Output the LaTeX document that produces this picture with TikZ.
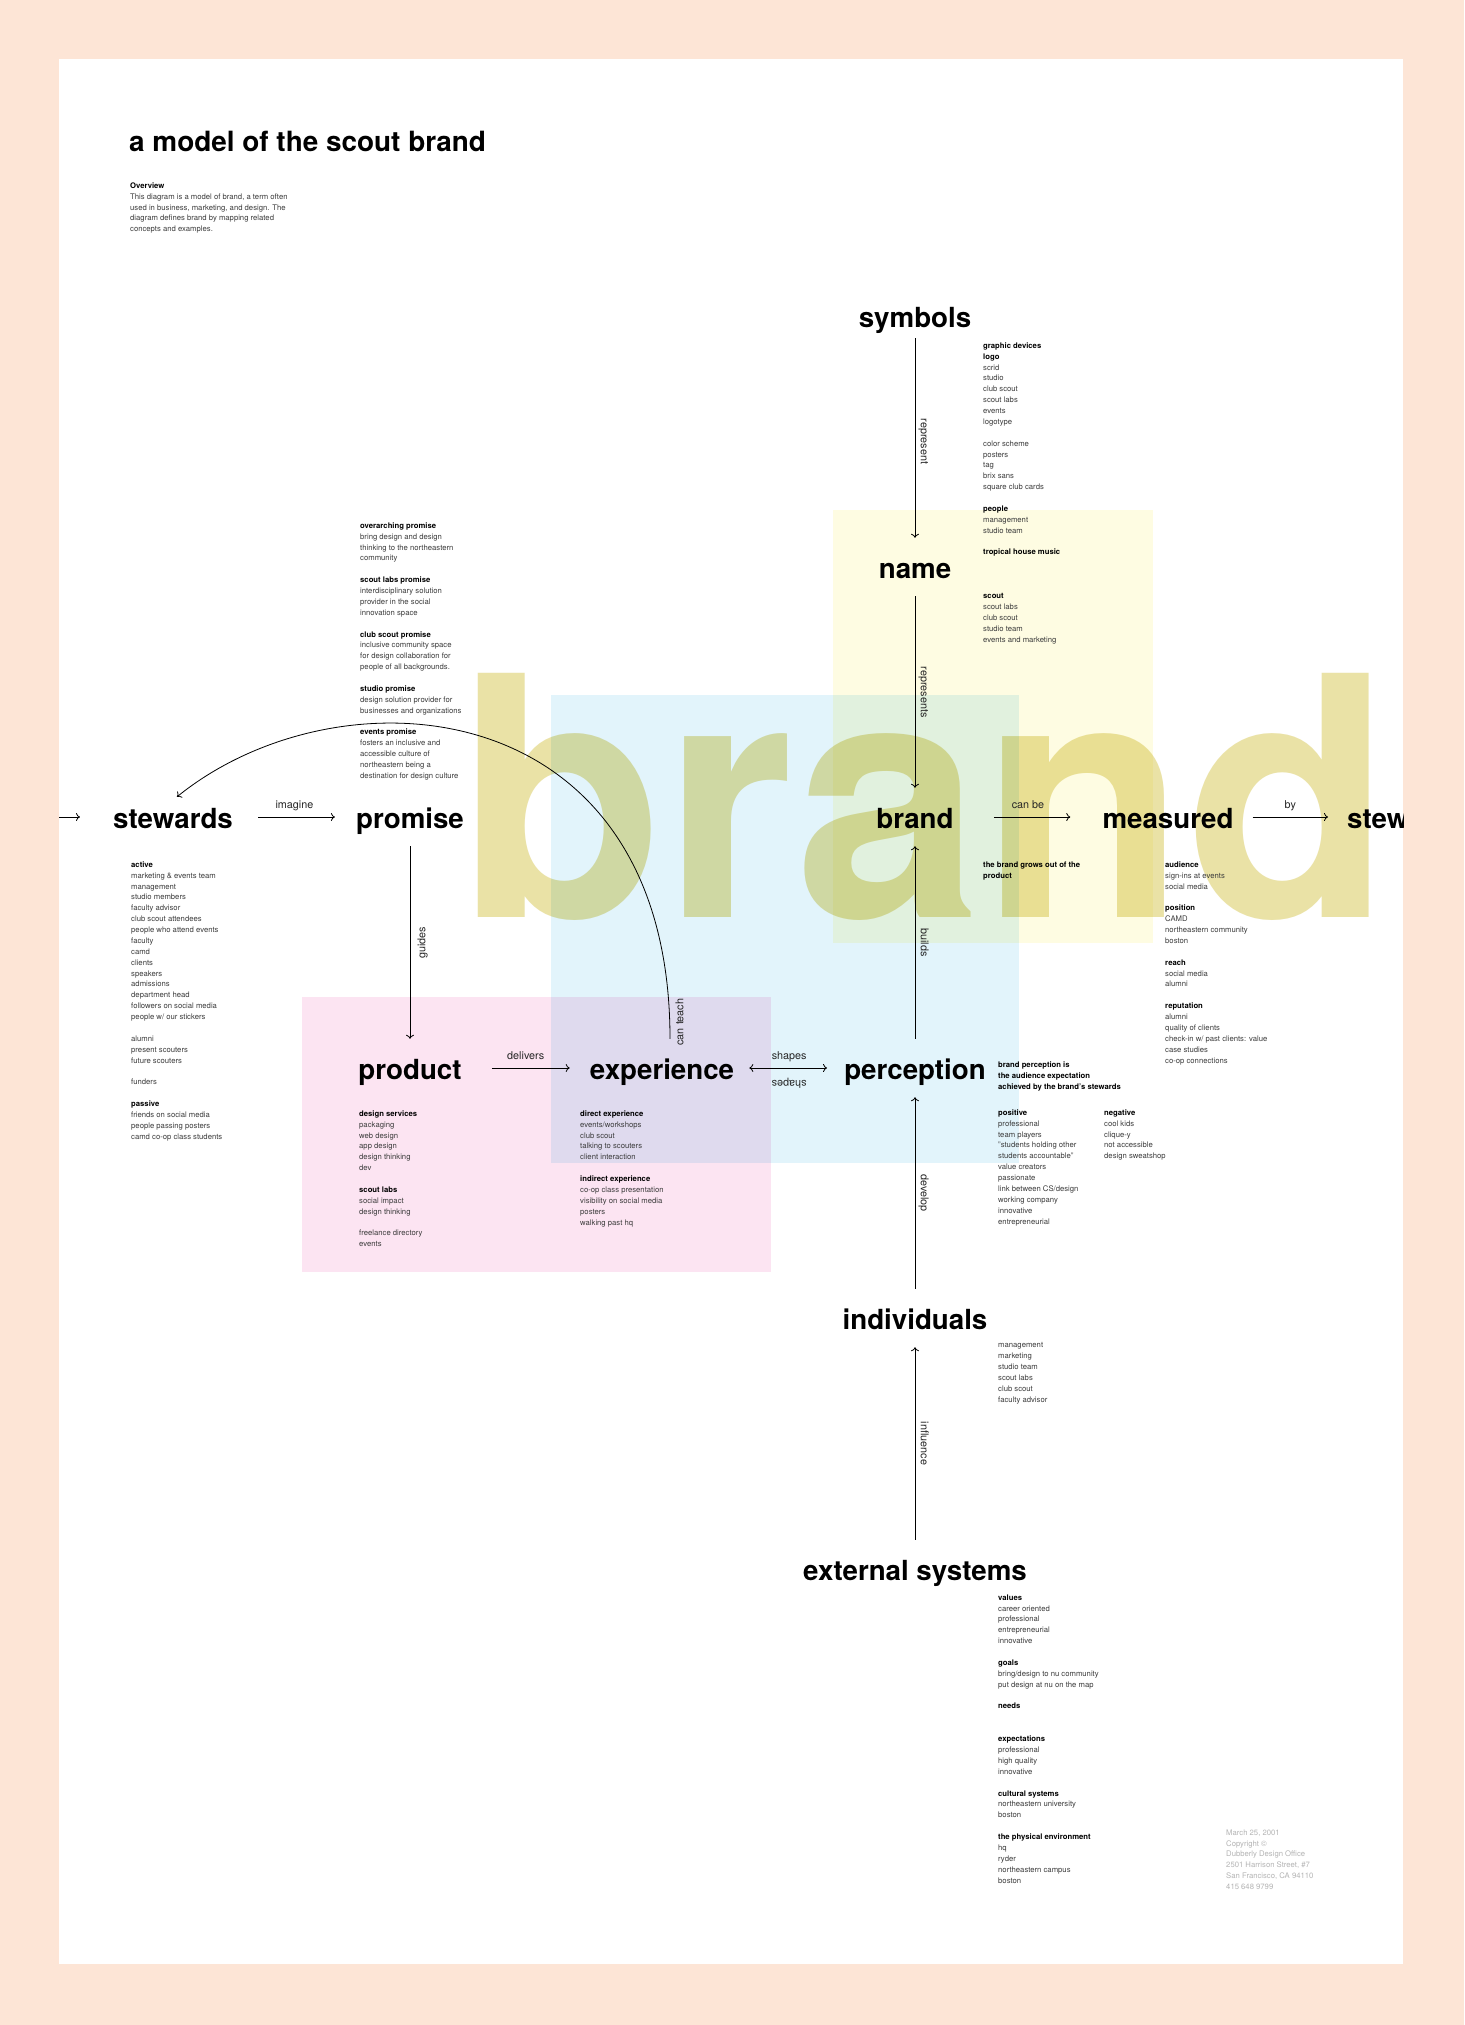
\documentclass[tikz,border=0pt]{standalone}
\usepackage{fontspec}
\setmainfont{TeX Gyre Heros}
\usetikzlibrary{arrows.meta}
\definecolor{peach}{RGB}{253,229,214}
\definecolor{paleyellow}{RGB}{254,252,226}
\definecolor{paleblue}{RGB}{226,244,251}
\definecolor{palepink}{RGB}{252,228,242}
\definecolor{palegreen}{RGB}{225,241,222}
\definecolor{palelilac}{RGB}{223,218,238}
\definecolor{brandtint}{RGB}{234,226,166}
\definecolor{notegray}{RGB}{60,60,60}
\definecolor{imprint}{RGB}{180,180,180}
\newcommand\conceptfont{\fontsize{27.7}{30}\selectfont\bfseries}
\newcommand\notefont{\fontsize{7.7}{10.87}\selectfont}
\newcommand\verbfont{\fontsize{10.8}{13}\selectfont}
\newcommand\hd[1]{\textbf{\color{black}#1}}
\tikzset{
  concept/.style={font=\conceptfont, anchor=base, inner sep=0pt, text height=40pt, text depth=18pt},
  notes/.style={font=\notefont, text=notegray, align=left, anchor=north west, inner sep=0pt, yshift=7.6pt, execute at begin node=\strut},
  conn/.style={-{To[length=4pt,width=8pt]}, line width=0.8pt},
  verb/.style={font=\verbfont, text=black!85, inner sep=3pt, text height=8pt, text depth=2.5pt},
}
\begin{document}
\begin{tikzpicture}[x=1pt,y=-1pt]
\fill[peach] (0,0) rectangle (1464,2025);
\fill[white] (59,59) rectangle (1403,1964);
\begin{scope}
\clip (59,59) rectangle (1403,1964);
% tinted fields
\fill[paleyellow] (833,510) rectangle (1153,943);
\fill[paleblue] (551,695) rectangle (1019,1163);
\fill[palepink] (302,997) rectangle (771,1272);
\fill[palegreen] (833,695) rectangle (1019,943);
\fill[palelilac] (551,997) rectangle (771,1163);
\begin{scope}[blend mode=multiply]
  \node[font=\fontsize{335}{335}\selectfont\bfseries, text=brandtint, anchor=base west, inner sep=0pt] (bigbrand) at (458.6,917) {brand};
\end{scope}

\node[font=\fontsize{27.9}{30}\selectfont\bfseries, anchor=base west, inner sep=0pt] (title) at (129,152) {a model of the scout brand};
\node[notes] (overview) at (130,190) {\hd{Overview}\\This diagram is a model of brand, a term often\\used in business, marketing, and design. The\\diagram defines brand by mapping related\\concepts and examples.};

% concepts
\node[concept] (symbols) at (915,327) {symbols};
\node[concept] (name) at (915,578) {name};
\node[concept] (brand) at (915,828) {brand};
\node[concept] (measured) at (1168,828) {measured};
\node[concept, anchor=base west] (stewardsR) at (1347,828) {stewards};
\node[concept] (stewards) at (173,828) {stewards};
\node[concept] (promise) at (410,828) {promise};
\node[concept] (product) at (410,1079) {product};
\node[concept] (experience) at (662,1079) {experience};
\node[concept] (perception) at (915,1079) {perception};
\node[concept] (individuals) at (915,1329) {individuals};
\node[concept] (externalsys) at (915,1580) {external systems};
\coordinate (entry) at (30,817);

% connectors
\draw[conn, shorten >=33pt] (entry) -- (stewards);
\draw[conn, shorten <=25pt, shorten >=21pt] (stewards) -- node[verb, above=2.5pt] {imagine} (promise);
\draw[conn, shorten <=40pt, shorten >=32pt] (brand) -- node[verb, above=2.5pt] {can be} (measured);
\draw[conn, shorten <=19pt, shorten >=19pt] (measured) -- node[verb, above=2.5pt] {by} (stewardsR);
\draw[conn, shorten <=30pt, shorten >=20pt] (product) -- node[verb, above=2.5pt] {delivers} (experience);
\draw[conn, {To[length=4pt,width=8pt]}-{To[length=4pt,width=8pt]}, shorten <=15pt, shorten >=17pt] (experience) -- node[verb, above=2.5pt] {shapes} node[verb, anchor=south, yshift=-6.5pt, rotate=180] {shapes} (perception);
\draw[conn, shorten <=-7pt] (symbols) -- node[verb, anchor=south, rotate=-90] {represent} (name);
\draw[conn] (name) -- node[verb, anchor=south, rotate=-90] {represents} (brand);
\draw[conn] (perception) -- node[verb, anchor=south, rotate=-90] {builds} (brand);
\draw[conn] (individuals) -- node[verb, anchor=south, rotate=-90] {develop} (perception);
\draw[conn] (externalsys) -- node[verb, anchor=south, rotate=-90] {influence} (individuals);
\draw[conn] (promise) -- node[verb, anchor=north, xshift=4pt, rotate=90] {guides} (product);
\draw[conn] ([xshift=8pt]experience.north) .. controls (670,690) and (340,665) .. node[verb, pos=0, anchor=north west, xshift=3pt, yshift=-9pt, rotate=90, inner sep=2pt] {can teach} ([xshift=4pt,yshift=-9pt]stewards.north);

% notes
\node[notes] (promisenotes) at (360,530) {\hd{overarching promise}\\bring design and design\\thinking to the northeastern\\community\\[10.9pt]
  \hd{scout labs promise}\\interdisciplinary solution\\provider in the social\\innovation space\\[10.9pt]
  \hd{club scout promise}\\inclusive community space\\for design collaboration for\\people of all backgrounds.\\[10.9pt]
  \hd{studio promise}\\design solution provider for\\businesses and organizations\\[10.9pt]
  \hd{events promise}\\fosters an inclusive and\\accessible culture of\\northeastern being a\\destination for design culture};
\node[notes] (symbolnotes) at (983,350) {\hd{graphic devices}\\\hd{logo}\\scrid\\studio\\club scout\\scout labs\\events\\logotype\\[10.9pt]
  color scheme\\posters\\tag\\brix sans\\square club cards\\[10.9pt]
  \hd{people}\\management\\studio team\\[10.9pt]
  \hd{tropical house music}\\[32.7pt]
  \hd{scout}\\scout labs\\club scout\\studio team\\events and marketing};
\node[notes] (stewardnotes) at (131,869) {\hd{active}\\marketing \& events team\\management\\studio members\\faculty advisor\\club scout attendees\\people who attend events\\faculty\\camd\\clients\\speakers\\admissions\\department head\\followers on social media\\people w/ our stickers\\[10.9pt]
  alumni\\present scouters\\future scouters\\[10.9pt]
  funders\\[10.9pt]
  \hd{passive}\\friends on social media\\people passing posters\\camd co-op class students};
\node[notes] (brandnotes) at (983,869) {\hd{the brand grows out of the}\\\hd{product}};
\node[notes] (measurenotes) at (1165,869) {\hd{audience}\\sign-ins at events\\social media\\[10.9pt]
  \hd{position}\\CAMD\\northeastern community\\boston\\[10.9pt]
  \hd{reach}\\social media\\alumni\\[10.9pt]
  \hd{reputation}\\alumni\\quality of clients\\check-in w/ past clients: value\\case studies\\co-op connections};
\node[notes] (productnotes) at (359,1118) {\hd{design services}\\packaging\\web design\\app design\\design thinking\\dev\\[10.9pt]
  \hd{scout labs}\\social impact\\design thinking\\[10.9pt]
  freelance directory\\events};
\node[notes] (experiencenotes) at (580,1118) {\hd{direct experience}\\events/workshops\\club scout\\talking to scouters\\client interaction\\[10.9pt]
  \hd{indirect experience}\\co-op class presentation\\visibility on social media\\posters\\walking past hq};
\node[notes] (perceptnotes) at (998,1069) {\hd{brand perception is}\\\hd{the audience expectation}\\\hd{achieved by the brand's stewards}};
\node[notes] (positivenotes) at (998,1117) {\hd{positive}\\professional\\team players\\"students holding other\\students accountable"\\value creators\\passionate\\link between CS/design\\working company\\innovative\\entrepreneurial};
\node[notes] (negativenotes) at (1104,1117) {\hd{negative}\\cool kids\\clique-y\\not accessible\\design sweatshop};
\node[notes] (individualnotes) at (998,1350) {management\\marketing\\studio team\\scout labs\\club scout\\faculty advisor};
\node[notes] (externalnotes) at (998,1602) {\hd{values}\\career oriented\\professional\\entrepreneurial\\innovative\\[10.9pt]
  \hd{goals}\\bring/design to nu community\\put design at nu on the map\\[10.9pt]
  \hd{needs}\\[21.8pt]
  \hd{expectations}\\professional\\high quality\\innovative\\[10.9pt]
  \hd{cultural systems}\\northeastern university\\boston\\[10.9pt]
  \hd{the physical environment}\\hq\\ryder\\northeastern campus\\boston};
\node[notes, text=imprint] (imprintnotes) at (1226,1837) {March 25, 2001\\Copyright ©\\Dubberly Design Office\\2501 Harrison Street, \#7\\San Francisco, CA 94110\\415 648 9799};
\end{scope}
\end{tikzpicture}
\end{document}
